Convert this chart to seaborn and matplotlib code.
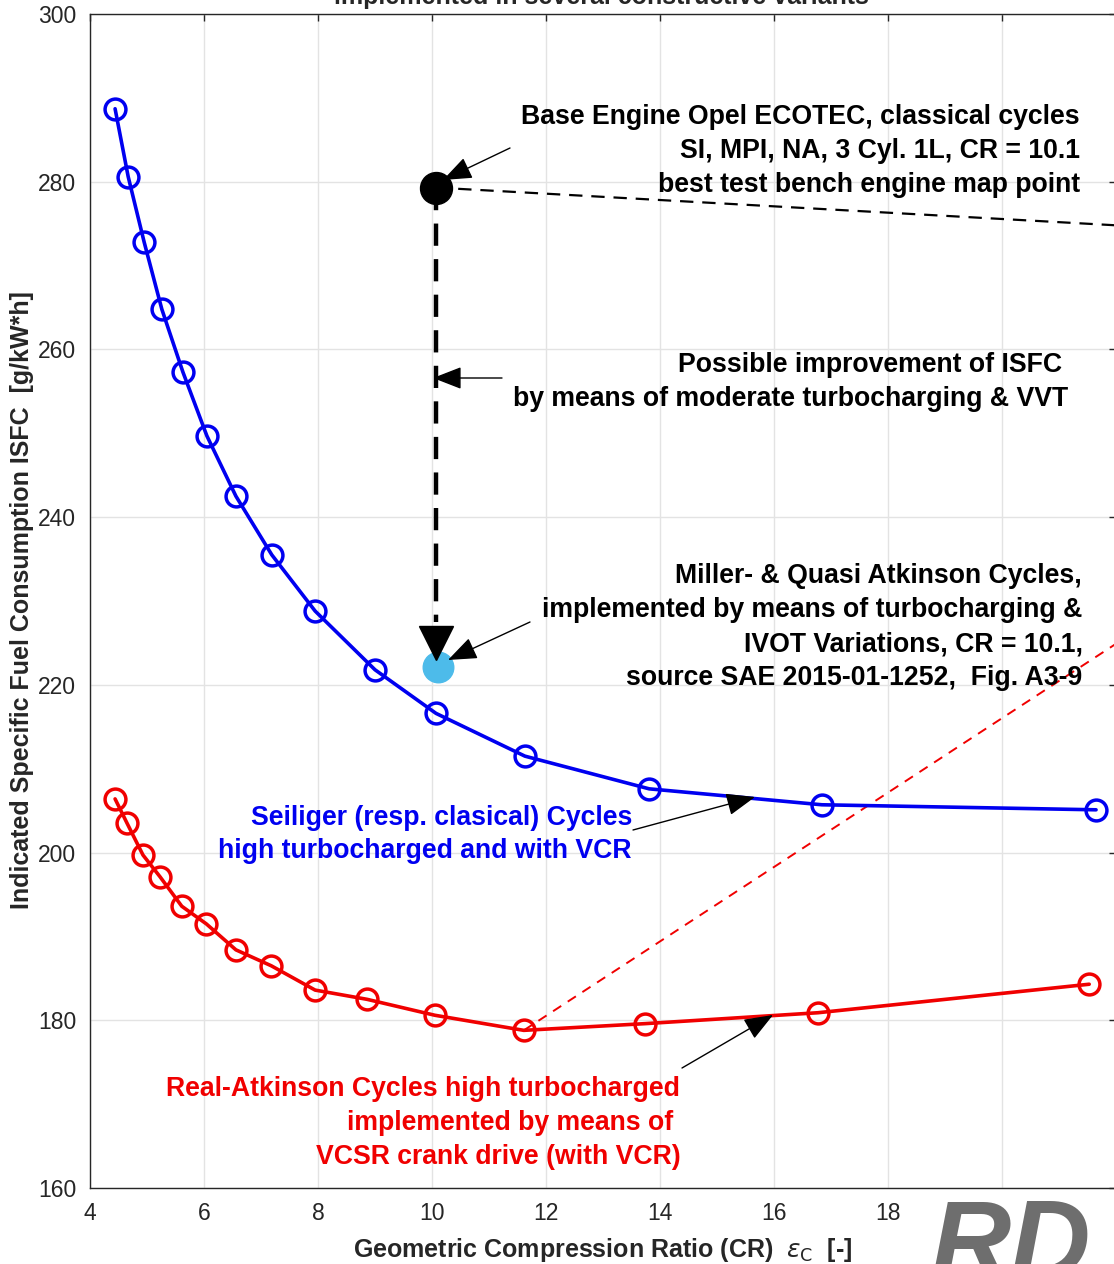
import matplotlib
matplotlib.use('Agg')
import matplotlib.pyplot as plt
import seaborn as sns
from matplotlib.patches import Rectangle

# Seiliger (resp. classical) cycles, high turbocharged with VCR
cr_blue = [4.44, 4.67, 4.95, 5.26, 5.63, 6.05, 6.56, 7.19, 7.95, 9.0, 10.07, 11.63, 13.81, 16.84, 21.65]
isfc_blue = [288.7, 280.6, 272.8, 264.8, 257.3, 249.7, 242.5, 235.5, 228.8, 221.8, 216.6, 211.5, 207.6, 205.7, 205.1]

# Real-Atkinson cycles, VCSR crank drive
cr_red = [4.44, 4.65, 4.93, 5.23, 5.61, 6.04, 6.56, 7.18, 7.95, 8.86, 10.05, 11.61, 13.74, 16.77, 21.53]
isfc_red = [206.4, 203.5, 199.7, 197.1, 193.6, 191.5, 188.4, 186.5, 183.6, 182.5, 180.6, 178.8, 179.6, 180.9, 184.3]

# single map points
base_cr, base_isfc = 10.07, 279.3
miller_cr, miller_isfc = 10.1, 222.1
improve_stem_end, improve_head = 227.5, 225.0

# dashed guide lines leaving the chart on the right
base_link_x, base_link_y = [base_cr, 22.0], [base_isfc, 274.8]
red_link_x, red_link_y = [11.61, 22.0], [178.8, 224.9]

xticks = [4, 6, 8, 10, 12, 14, 16, 18, 20, 22]
xticklabels = ['4', '6', '8', '10', '12', '14', '16', '18', '', '']
yticks = [160, 180, 200, 220, 240, 260, 280, 300]

W, H = 1114, 1264
BLUE, RED, CYAN = '#0000f0', '#f00000', '#4dbbea'

sns.set_style('white')
plt.rcParams['font.family'] = ['Liberation Sans', 'DejaVu Sans']
plt.rcParams['mathtext.fontset'] = 'dejavusans'

fig = plt.figure(figsize=(W / 100, H / 100), dpi=100)
ax = fig.add_axes([90 / W, 1 - 1188 / H, (1116 - 90) / W, (1188 - 14) / H])


def P(px, py):
    return px / W, 1 - py / H


ax.plot(base_link_x, base_link_y, color='k', lw=1.6, dashes=(6, 4), zorder=3)
ax.plot(red_link_x, red_link_y, color=RED, lw=1.4, dashes=(5, 4), zorder=3)

line_kw = dict(marker='o', markersize=15, markerfacecolor='none', markeredgewidth=2.5,
               linewidth=2.6, sort=False, zorder=4)
sns.lineplot(x=cr_blue, y=isfc_blue, color=BLUE, markeredgecolor=BLUE, ax=ax, **line_kw)
sns.lineplot(x=cr_red, y=isfc_red, color=RED, markeredgecolor=RED, ax=ax, **line_kw)

# improvement arrow (dashed stem + filled head)
ax.plot([base_cr, base_cr], [base_isfc, improve_stem_end], color='k', lw=3.2, dashes=(5, 3), zorder=5)
ax.plot([base_cr], [improve_head], marker='v', markersize=24, color='k', zorder=6)

ax.plot([base_cr], [base_isfc], marker='o', markersize=23, color='k', zorder=6)
ax.plot([miller_cr], [miller_isfc], marker='o', markersize=22, color=CYAN, zorder=5)

ax.set_xlim(4, 22)
ax.set_ylim(160, 300)
ax.set_xticks(xticks)
ax.set_xticklabels(xticklabels)
ax.set_yticks(yticks)
ax.grid(True, color='#e3e3e3', lw=1)
ax.tick_params(direction='in', length=5, width=1, top=True, right=True,
               labelsize=16.5, colors='#262626', pad=10)
for s in ax.spines.values():
    s.set_color('#262626')
    s.set_linewidth(1)

ax.set_xlabel(r'Geometric Compression Ratio (CR)  $\epsilon_{\mathrm{C}}$  [-]',
              fontsize=18, fontweight='bold', color='#262626', labelpad=8)
fig.text(*P(22, 600), 'Indicated Specific Fuel Consumption ISFC  [g/kW*h]', rotation=90,
         ha='center', va='center', fontsize=18, fontweight='bold', color='#262626')
fig.text(*P(601, 4), 'implemented in several constructive variants', ha='center', va='baseline',
         fontsize=18, fontweight='bold', color='#262626')

# annotation texts: (text, right x px, baseline y px, color)
notes = [
    ('Base Engine Opel ECOTEC, classical cycles', 1080, 124, 'k'),
    ('SI, MPI, NA, 3 Cyl. 1L, CR = 10.1', 1080, 158, 'k'),
    ('best test bench engine map point', 1080, 192, 'k'),
    ('Possible improvement of ISFC', 1062, 372, 'k'),
    ('by means of moderate turbocharging & VVT', 1068, 406, 'k'),
    ('Miller- & Quasi Atkinson Cycles,', 1082, 583, 'k'),
    ('implemented by means of turbocharging &', 1082, 617, 'k'),
    ('IVOT Variations, CR = 10.1,', 1083, 651, 'k'),
    ('source SAE 2015-01-1252,  Fig. A3-9', 1082, 685, 'k'),
    ('Seiliger (resp. clasical) Cycles', 632, 825, BLUE),
    ('high turbocharged and with VCR', 632, 858, BLUE),
    ('Real-Atkinson Cycles high turbocharged', 680, 1096, RED),
    ('implemented by means of', 673, 1130, RED),
    ('VCSR crank drive (with VCR)', 681, 1164, RED),
]
for txt, px, py, c in notes:
    fig.text(*P(px, py), txt, ha='right', va='baseline', fontsize=19.2, fontweight='bold', color=c)

# pointer arrows: (tail px, tip px)
pointers = [
    ((510, 148), (443, 180)),
    ((502, 378), (433, 378)),
    ((530, 622), (448, 660)),
    ((633, 830), (755, 797)),
    ((682, 1068), (773, 1015)),
]
for tail, tip in pointers:
    ax.annotate('', xy=P(*tip), xycoords='figure fraction', xytext=P(*tail),
                textcoords='figure fraction',
                arrowprops=dict(arrowstyle='-|>,head_length=0.9,head_width=0.35',
                                mutation_scale=20, color='k', lw=1, shrinkA=0, shrinkB=0),
                zorder=7)

# logo corner
fig.patches.append(Rectangle(P(925, 1264), 189 / W, 72 / H, transform=fig.transFigure,
                             facecolor='white', edgecolor='none', zorder=10))
fig.text(*P(1010, 1278), 'RD', ha='center', va='baseline', fontsize=80, fontweight='bold',
         style='italic', color='#6e6e6e', zorder=11)

fig.savefig('out.png', dpi=100)
